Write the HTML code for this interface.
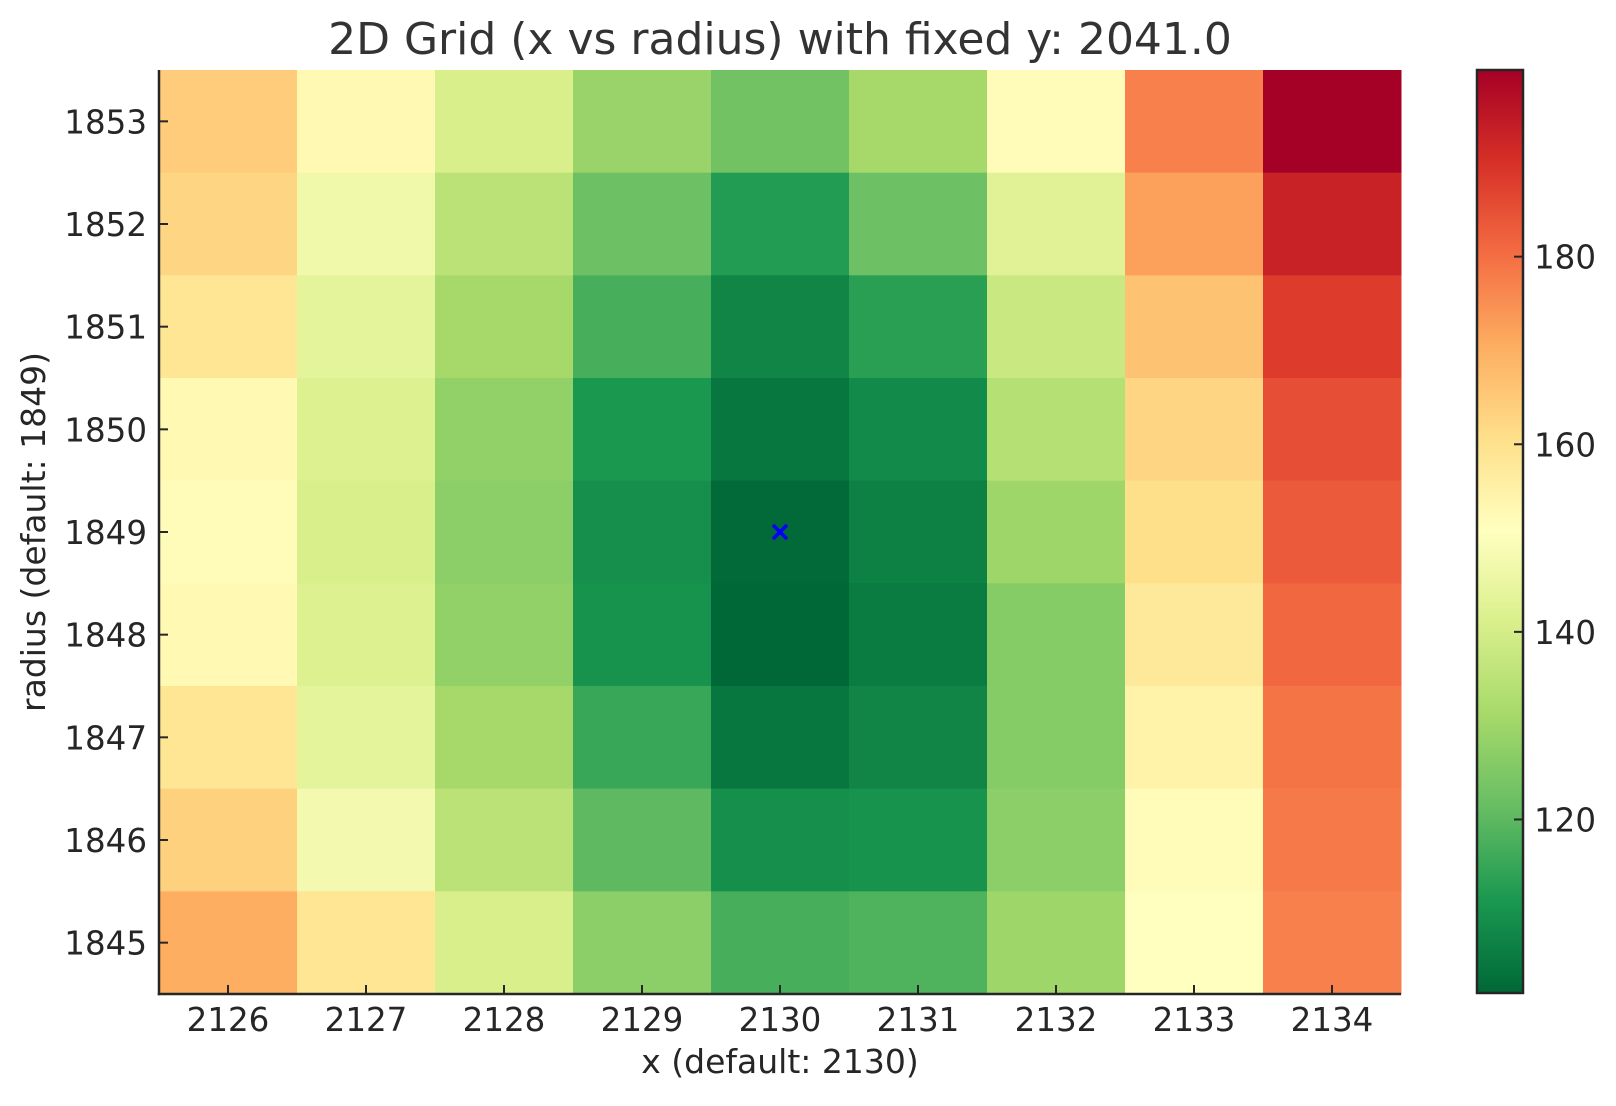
<!DOCTYPE html>
<html><head><meta charset="utf-8">
<style>
html,body{margin:0;padding:0;background:#fff;}
svg text{font-family:"DejaVu Sans","Liberation Sans",sans-serif;fill:#262626;}
</style></head>
<body>
<svg id="chart" width="1616" height="1101" xmlns="http://www.w3.org/2000/svg">
<defs>
<linearGradient id="cbgrad" x1="0" y1="1" x2="0" y2="0">
<stop offset="0" stop-color="#006837"/><stop offset="0.1" stop-color="#1a9850"/><stop offset="0.2" stop-color="#66bd63"/><stop offset="0.3" stop-color="#a6d96a"/><stop offset="0.4" stop-color="#d9ef8b"/><stop offset="0.5" stop-color="#ffffbf"/><stop offset="0.6" stop-color="#fee08b"/><stop offset="0.7" stop-color="#fdae61"/><stop offset="0.8" stop-color="#f46d43"/><stop offset="0.9" stop-color="#d73027"/><stop offset="1" stop-color="#a50026"/>
</linearGradient>
</defs>
<text x="780" y="54" font-size="44" text-anchor="middle" style="fill:#333">2D Grid (x vs radius) with fixed y: 2041.0</text>
<g id="cells"></g>
<g id="axes"></g>
<text x="780" y="1073" font-size="33" text-anchor="middle">x (default: 2130)</text>
<text transform="translate(45,532) rotate(-90)" font-size="33" text-anchor="middle">radius (default: 1849)</text>
<rect x="1477" y="70" width="46" height="923" fill="url(#cbgrad)" stroke="#262626" stroke-width="2.5"/>
<g id="cbticks"></g>
</svg>
<script>
const xCats = [2126,2127,2128,2129,2130,2131,2132,2133,2134];
const yCats = [1853,1852,1851,1850,1849,1848,1847,1846,1845];
const row1853 = [164.5,152.7,140.9,129,123,131,151.7,177.3,199.9];
const row1852 = [162.5,146.8,135,122.2,112.3,122.2,142.8,172.4,193];
const row1851 = [158.6,143.8,131,117.2,107.4,113.3,137.9,166.4,188.1];
const row1850 = [152.7,141.8,128,111.3,104.5,108.4,134,162.5,185.1];
const row1849 = [151.7,140.9,127,109.4,102,106.4,130,160.5,183.2];
const row1848 = [152.7,141.8,128,110.4,101.5,105.4,126,157.6,181.2];
const row1847 = [158.6,143.8,131,115.3,104.5,107.4,126,154.6,179.2];
const row1846 = [163.5,147.7,135,120.2,109.4,110.4,127,151.7,178.3];
const row1845 = [170.4,158.6,140.9,127,117.2,118.2,130,150.7,177.3];
const cbTicks = [120,140,160,180];
const vmin = 101.5, vmax = 199.9;
const marker = [2130,1849];

const rows = [row1853,row1852,row1851,row1850,row1849,row1848,row1847,row1846,row1845];
const L=159, R=1401, T=70, B=994;
const cw=(R-L)/xCats.length, rh=(B-T)/yCats.length;
const xPos = v => L + (xCats.indexOf(v)+0.5)*cw;
const yPos = v => T + (yCats.indexOf(v)+0.5)*rh;
const cbY = v => 993 - (v-vmin)/(vmax-vmin)*923;
const stops=["#006837","#1a9850","#66bd63","#a6d96a","#d9ef8b","#ffffbf","#fee08b","#fdae61","#f46d43","#d73027","#a50026"];
function hex(h){return [1,3,5].map(i=>parseInt(h.substr(i,2),16));}
function cmap(v){
  let t=Math.max(0,Math.min(1,(v-vmin)/(vmax-vmin)))*10;
  let i=Math.min(9,Math.floor(t)),f=t-i;
  const a=hex(stops[i]),b=hex(stops[i+1]);
  return "rgb("+a.map((c,k)=>Math.round(c+(b[k]-c)*f)).join(",")+")";
}
const NS="http://www.w3.org/2000/svg";
function mk(tag,attrs,parent){const e=document.createElementNS(NS,tag);for(const k in attrs)e.setAttribute(k,attrs[k]);parent.appendChild(e);return e;}
const cells=document.getElementById('cells');
rows.forEach((row,ri)=>{
  row.forEach((v,ci)=>{
    const cx=xPos(xCats[ci]), cy=yPos(yCats[ri]);
    const r=mk('rect',{x:cx-cw/2,y:cy-rh/2,width:cw+0.5,height:rh+0.5,fill:cmap(v)},cells);
    
    
  });
});
const axes=document.getElementById('axes');
const sp1=mk('line',{x1:L,y1:T,x2:L,y2:B+1.25,stroke:'#262626','stroke-width':2.5},axes);


const sp2=mk('line',{x1:L-1.25,y1:B,x2:R,y2:B,stroke:'#262626','stroke-width':2.5},axes);


xCats.forEach(v=>{
  const x=xPos(v);
  mk('line',{x1:x,y1:B,x2:x,y2:B-9,stroke:'#262626','stroke-width':2},axes);
  const t=mk('text',{x:x,y:1031,'font-size':32.5,'text-anchor':'middle'},axes);
  t.textContent=v;
  
  
});
yCats.forEach(v=>{
  const y=yPos(v);
  mk('line',{x1:L,y1:y,x2:L+9,y2:y,stroke:'#262626','stroke-width':2},axes);
  const t=mk('text',{x:147,y:y+12,'font-size':32.5,'text-anchor':'end'},axes);
  t.textContent=v;
  
  
});
const mx=xPos(marker[0]), my=yPos(marker[1]);
const m=mk('path',{d:`M${mx-7},${my-7}L${mx+7},${my+7}M${mx-7},${my+7}L${mx+7},${my-7}`,stroke:'#0000ff','stroke-width':3.5},axes);


const cbt=document.getElementById('cbticks');
cbTicks.forEach(v=>{
  const y=cbY(v);
  mk('line',{x1:1514,y1:y,x2:1523,y2:y,stroke:'#262626','stroke-width':2},cbt);
  const t=mk('text',{x:1534,y:y+12,'font-size':32.5},cbt);
  t.textContent=v;
  
  
});
</script>
</body></html>
